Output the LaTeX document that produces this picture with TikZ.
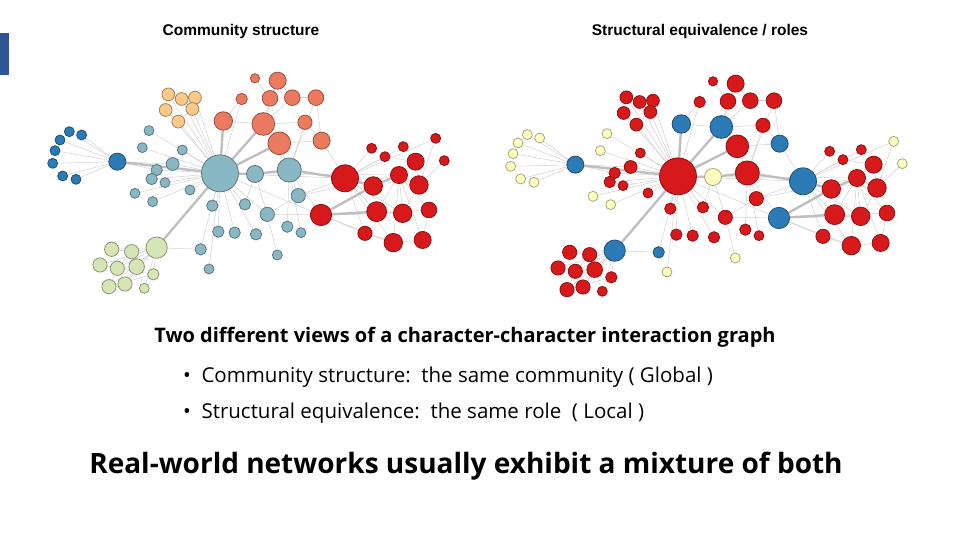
\documentclass[tikz,border=0pt]{standalone}
\usepackage{fontspec}
\setmainfont{Open Sans}
\newfontfamily\arialf{Liberation Sans}
\usetikzlibrary{backgrounds}
\definecolor{cB}{HTML}{2C7BB6}
\definecolor{cO}{HTML}{FDC98A}
\definecolor{cS}{HTML}{EC7A5F}
\definecolor{cT}{HTML}{8AB7C4}
\definecolor{cG}{HTML}{D5E5B5}
\definecolor{cR}{HTML}{D7191C}
\definecolor{cY}{HTML}{FFFFBF}
\definecolor{bar}{HTML}{2F5597}
\tikzset{vert/.style={circle,inner sep=0pt,fill=#1,draw=#1!65!black,line width=0.8pt},
 edge/.style={draw=gray!40,line width=0.45pt},
 thk/.style={draw=gray!50,line width=2.4pt}}
\def\nodelist{1/88/215/14/cB/cY,2/125/225/14/cB/cY,3/60/240/14/cB/cY,4/45/272/14/cB/cY,5/38/310/14/cB/cY,6/68/348/14/cB/cY,7/108/358/14/cB/cY,8/232/305/24/cB/cB,
9/385/103/18/cO/cR,10/425/117/18/cO/cR,11/465/113/18/cO/cR,12/377/150/18/cO/cR,13/457/147/18/cO/cR,14/415/185/18/cO/cR,
15/645/55/13/cS/cR,16/713/62/24/cS/cR,17/605/117/16/cS/cR,18/690/115/22/cS/cR,19/757/113/22/cS/cR,20/828/113/22/cS/cR,21/550/183/26/cS/cB,22/670/192/32/cS/cB,23/795/187/20/cS/cR,24/718/250/32/cS/cR,25/845/242/24/cS/cB,
26/327/212/14/cT/cY,27/307/263/14/cT/cY,28/427/270/14/cT/cR,29/398/312/18/cT/cR,30/350/330/16/cT/cR,31/335/357/16/cT/cR,32/375/368/14/cT/cR,33/285/400/14/cT/cY,34/338/425/14/cT/cY,35/450/390/14/cT/cR,36/540/340/52/cT/cR,37/645/342/24/cT/cY,38/748/330/34/cT/cR,39/775/407/20/cT/cR,40/517/437/16/cT/cR,41/615/433/16/cT/cR,42/682/463/20/cT/cR,43/535/515/16/cT/cR,44/584/518/16/cT/cR,45/648/523/16/cT/cR,46/742/500/16/cT/cR,47/783/518/14/cT/cR,48/482/568/16/cT/cB,49/712/585/14/cT/cY,50/507/627/14/cT/cY,
51/350/563/30/cG/cB,52/215/568/20/cG/cR,53/275/575/20/cG/cR,54/180/615/20/cG/cR,55/232/625/20/cG/cR,56/290/620/22/cG/cR,57/340/643/16/cG/cR,58/207/680/20/cG/cR,59/255/672/20/cG/cR,60/313/685/14/cG/cR,
61/995/265/14/cR/cR,62/1035/290/14/cR/cR,63/1090/260/14/cR/cR,64/1187/235/14/cR/cY,65/1213/302/14/cR/cY,66/915/355/38/cR/cB,67/1000/378/26/cR/cR,68/1127/305/24/cR/cR,69/1077/345/24/cR/cR,70/1137/375/26/cR/cR,71/843/465/30/cR/cB,72/1010/455/28/cR/cR,73/1088/460/26/cR/cR,74/1167/450/22/cR/cR,75/975/520/20/cR/cR,76/1060/548/26/cR/cR,77/1148/540/24/cR/cR}
\def\thinedges{8/1,8/2,8/3,8/4,8/5,8/6,8/7,8/29,8/30,9/10,10/11,9/12,11/13,12/14,13/14,14/36,12/36,13/36,11/36,9/36,10/36,22/18,22/16,22/19,22/23,22/24,18/16,18/19,19/20,20/25,23/25,24/25,17/21,15/18,16/19,21/22,22/38,24/38,25/66,23/38,20/38,17/36,
36/26,36/27,36/28,36/29,36/30,36/31,36/32,36/33,36/34,36/35,36/40,36/41,36/42,36/43,36/44,36/45,36/48,36/50,38/39,39/42,38/46,38/47,49/42,39/69,39/66,37/41,37/42,
51/52,51/53,51/54,51/55,51/56,51/57,51/58,51/59,51/60,52/53,53/55,54/55,55/56,54/57,57/58,58/55,56/59,56/53,60/56,51/48,
66/61,66/62,66/63,66/64,66/67,66/70,66/72,66/73,66/75,66/76,69/68,69/70,69/72,69/73,69/74,69/77,67/71,71/72,72/73,72/74,74/77,75/76,76/77,73/70,70/68,62/68,64/70,65/70,69/76,71/75,71/76,71/73,36/66,36/69,42/71,38/71,36/71}
\def\thickedges{8/36,21/36,22/36,24/36,36/37,37/38,38/66,36/51,67/69,71/67,66/67,71/72}
\begin{document}
\begin{tikzpicture}[x=1pt,y=-1pt]
\useasboundingbox (0,0) rectangle (960,540);
\fill[bar] (0,33) rectangle (9,75);
\node[font=\arialf\bfseries\fontsize{15.5}{18}\selectfont] (t1) at (241,31) {Community structure};
\node[font=\arialf\bfseries\fontsize{15.5}{18}\selectfont] (t2) at (700,31) {Structural equivalence / roles};
\begin{scope}[shift={(40,60)},x=0.3333pt,y=-0.3333pt]
\foreach \i/\x/\y/\r/\cl/\cr in \nodelist
  \node[vert=\cl,minimum size=\r*0.71pt] (L\i) at (\x,\y) {};
\begin{pgfonlayer}{background}
\foreach \a/\b in \thinedges \draw[edge] (L\a) -- (L\b);
\foreach \a/\b in \thickedges \draw[thk] (L\a) -- (L\b);
\end{pgfonlayer}
\end{scope}
\begin{scope}[shift={(498,63)},x=0.3333pt,y=-0.3333pt]
\foreach \i/\x/\y/\r/\cl/\cr in \nodelist
  \node[vert=\cr,minimum size=\r*0.71pt] (R\i) at (\x,\y) {};
\begin{pgfonlayer}{background}
\foreach \a/\b in \thinedges \draw[edge] (R\a) -- (R\b);
\foreach \a/\b in \thickedges \draw[thk] (R\a) -- (R\b);
\end{pgfonlayer}
\end{scope}
\node[font=\bfseries\fontsize{20}{24}\selectfont] (cap) at (465,337) {Two different views of a character-character interaction graph};
\node[font=\fontsize{20.5}{24}\selectfont,anchor=west,inner sep=0pt] (b1) at (183,377) {•\ \ Community structure:\ \ the same community ( Global )};
\node[font=\fontsize{20.5}{24}\selectfont,anchor=west,inner sep=0pt] (b2) at (183,413) {•\ \ Structural equivalence:\ \ the same role\ \ ( Local )};
\node[font=\bfseries\fontsize{28}{32}\selectfont] (big) at (466,466) {Real-world networks usually exhibit a mixture of both};
\end{tikzpicture}
\end{document}
